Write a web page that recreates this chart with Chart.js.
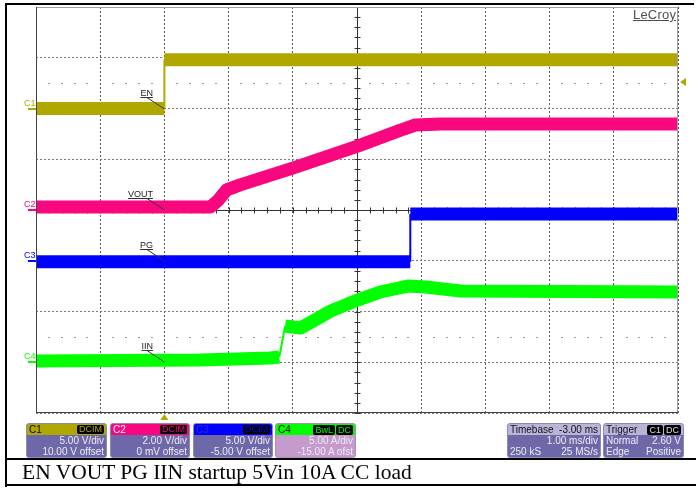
<!DOCTYPE html>
<html>
<head>
<meta charset="utf-8">
<script src="https://cdn.jsdelivr.net/npm/chart.js@4.4.1/dist/chart.umd.min.js"></script>
<style>
  body { margin: 0; background: #fff; }
  #wrap { position: relative; width: 696px; height: 489px; overflow: hidden; font-family: "Liberation Sans", Arial, sans-serif; }
  #scope { position: absolute; left: 0; top: 0; }
  .bar { position: absolute; background: #000; }
  .logo { position: absolute; left: 633px; top: 7px; font-size: 13px; color: #4f4f4f; text-decoration: underline; letter-spacing: 0.2px; }
  .box { position: absolute; top: 423px; height: 33px; border: 1px solid #8d89bd; border-radius: 3px; overflow: hidden; background: #6e68a8; color: #ecebf6; font-size: 10px; }
  .box .hd { height: 11px; line-height: 11px; padding: 0 2px; display: flex; justify-content: space-between; align-items: center; }
  .box .row { height: 11px; line-height: 11px; padding: 0 2px; text-align: right; white-space: nowrap; }
  .box .row.split { display: flex; justify-content: space-between; }
  .tag { background: #000; border-radius: 2px; padding: 0 2px; font-size: 9px; line-height: 9px; margin-left: 1px; }
  .caption { position: absolute; left: 22px; top: 462px; font-family: "Liberation Serif", "Times New Roman", serif; font-size: 21.5px; line-height: 21px; color: #000; white-space: nowrap; }
</style>
</head>
<body>
<div id="wrap">
  <canvas id="scope" width="696" height="489"></canvas>

  <div class="bar" style="left:5px;top:3px;width:689px;height:2px"></div>
  <div class="bar" style="left:5px;top:3px;width:2px;height:484px"></div>
  <div class="bar" style="left:5px;top:458px;width:691px;height:2px"></div>
  <div class="bar" style="left:5px;top:484px;width:691px;height:2px"></div>

  <div class="logo">LeCroy</div>

  <div class="box" style="left:26px;width:79px">
    <div class="hd" style="background:#b0a800;color:#000"><span>C1</span><span class="tag" style="color:#b0a800">DCIM</span></div>
    <div class="row">5.00 V/div</div>
    <div class="row">10.00 V offset</div>
  </div>
  <div class="box" style="left:110px;width:78px">
    <div class="hd" style="background:#f8077f;color:#fff"><span>C2</span><span class="tag" style="color:#f8077f">DCIM</span></div>
    <div class="row">2.00 V/div</div>
    <div class="row">0 mV offset</div>
  </div>
  <div class="box" style="left:193px;width:78px">
    <div class="hd" style="background:#0000ff;color:#2a2ad0"><span>C3</span><span class="tag" style="color:#0000ff">DCIM</span></div>
    <div class="row">5.00 V/div</div>
    <div class="row">-5.00 V offset</div>
  </div>
  <div class="box" style="left:275px;width:79px;background:#c49bcc;border-color:#b08ab8">
    <div class="hd" style="background:#00ff00;color:#000"><span>C4</span><span><span class="tag" style="color:#00ff00">BwL</span><span class="tag" style="color:#00ff00">DC</span></span></div>
    <div class="row">5.00 A/div</div>
    <div class="row">-15.00 A ofst</div>
  </div>
  <div class="box" style="left:507px;width:92px">
    <div class="hd" style="background:#b9b5d8;color:#111"><span>Timebase</span><span>-3.00 ms</span></div>
    <div class="row">1.00 ms/div</div>
    <div class="row split"><span>250 kS</span><span>25 MS/s</span></div>
  </div>
  <div class="box" style="left:603px;width:79px">
    <div class="hd" style="background:#b9b5d8;color:#111"><span>Trigger</span><span><span class="tag" style="color:#ddd">C1</span><span class="tag" style="color:#ddd">DC</span></span></div>
    <div class="row split"><span>Normal</span><span>2.60 V</span></div>
    <div class="row split"><span>Edge</span><span>Positive</span></div>
  </div>

  <div class="caption">EN VOUT PG IIN startup 5Vin 10A CC load</div>
</div>

<script>
// channel settings (volts or amps per division, offset)
const chNames = ["EN", "VOUT", "PG", "IIN"];
const chScale = [5, 2, 5, 5];
const chOffset = [10, 0, -5, -15];
const chColors = ["#b0a800", "#f8077f", "#0000ff", "#00ff00"];

// time in ms (trigger at 0), value in V or A
const enTime = [-2, 0, 0, 8];
const enVolts = [0, 0, 4.8, 4.8];

const voutTime = [-2, 0.72, 0.84, 0.97, 1.18, 2.01, 3.01, 3.68, 3.91, 4.30, 8];
const voutVolts = [0.12, 0.12, 0.39, 0.79, 0.99, 1.66, 2.52, 3.15, 3.35, 3.39, 3.39];

const pgTime = [-2, 3.83, 3.83, 8];
const pgVolts = [-0.1, -0.1, 4.6, 4.6];

const iinTime = [-2, 0.56, 1.65, 1.79, 1.88, 2.12, 2.40, 2.59, 3.01, 3.36, 3.79, 4.07, 4.61, 8];
const iinAmps = [0.12, 0.22, 0.42, 0.52, 3.57, 3.37, 4.36, 5.05, 6.13, 6.92, 7.51, 7.41, 7.02, 6.92];

const trigLevel = 2.6;   // volts on C1
const dotRows = [2.5, -2.5];

const traces = [
  [enTime, enVolts],
  [voutTime, voutVolts],
  [pgTime, pgVolts],
  [iinTime, iinAmps]
];

function toDiv(ch, times, vals) {
  return times.map((t, i) => ({ x: t, y: (vals[i] + chOffset[ch]) / chScale[ch] }));
}

const datasets = traces.map((tr, ch) => ({
  label: chNames[ch],
  data: toDiv(ch, tr[0], tr[1]),
  borderColor: chColors[ch],
  borderWidth: 13,
  borderCapStyle: "butt",
  borderJoinStyle: "round",
  pointRadius: 0,
  tension: 0,
  segment: {
    // steep edges are drawn thin like the scope does
    borderWidth: c => Math.abs(c.p1.y - c.p0.y) > 2 * Math.abs(c.p1.x - c.p0.x) ? 2 : 13
  }
}));

const scopeDecor = {
  id: "scopeDecor",
  beforeDatasetsDraw(chart) {
    const { ctx, chartArea: a, scales: { x, y } } = chart;
    ctx.save();
    // sparse dot rows
    ctx.fillStyle = "#9a9a9a";
    dotRows.forEach(d => {
      const py = Math.round(y.getPixelForValue(d));
      for (let i = -10; i <= 40; i++) {
        if (i % 5 === 0) continue;
        const px = Math.round(x.getPixelForValue(i / 5));
        ctx.fillRect(px - 1, py, 2, 1);
      }
    });
    // centre cross with minor ticks
    const cx = Math.round(x.getPixelForValue(3)) + 0.5;
    const cy = Math.round(y.getPixelForValue(0)) + 0.5;
    ctx.strokeStyle = "#333";
    ctx.lineWidth = 1;
    ctx.beginPath();
    ctx.moveTo(cx, a.top); ctx.lineTo(cx, a.bottom);
    ctx.moveTo(a.left, cy); ctx.lineTo(a.right, cy);
    for (let i = -20; i <= 20; i++) {
      const py = Math.round(y.getPixelForValue(i / 5)) + 0.5;
      ctx.moveTo(cx - 3, py); ctx.lineTo(cx + 3, py);
    }
    for (let i = -10; i <= 40; i++) {
      const px = Math.round(x.getPixelForValue(i / 5)) + 0.5;
      ctx.moveTo(px, cy - 3); ctx.lineTo(px, cy + 3);
    }
    ctx.stroke();
    ctx.restore();
  },
  afterDatasetsDraw(chart) {
    const { ctx, chartArea: a, scales: { x, y } } = chart;
    ctx.save();
    // plot frame
    ctx.lineWidth = 1;
    ctx.strokeStyle = "#a0a0a0";
    ctx.beginPath();
    ctx.moveTo(a.left, a.top + 0.5); ctx.lineTo(a.right, a.top + 0.5);
    ctx.moveTo(a.right - 0.5, a.top); ctx.lineTo(a.right - 0.5, a.bottom);
    ctx.stroke();
    ctx.strokeStyle = "#444";
    ctx.beginPath();
    ctx.moveTo(a.left + 0.5, a.top); ctx.lineTo(a.left + 0.5, a.bottom);
    ctx.moveTo(a.left, a.bottom - 0.5); ctx.lineTo(a.right, a.bottom - 0.5);
    ctx.stroke();

    const tx = x.getPixelForValue(0);
    ctx.font = "9px 'Liberation Sans', Arial, sans-serif";
    chNames.forEach((name, ch) => {
      const gy = Math.round(y.getPixelForValue(chOffset[ch] / chScale[ch]));
      // ground marker on the left
      ctx.fillStyle = chColors[ch];
      ctx.textAlign = "left";
      ctx.textBaseline = "alphabetic";
      ctx.fillText("C" + (ch + 1), 24, gy - 3);
      ctx.fillRect(28, gy - 1, 8, 2);
      // trace label with leader
      ctx.fillStyle = "#222";
      ctx.textAlign = "right";
      const right = 153;
      ctx.fillText(name, right, gy - 13);
      const w = ctx.measureText(name).width;
      ctx.strokeStyle = "#333";
      ctx.beginPath();
      ctx.moveTo(right - w, gy - 11.5); ctx.lineTo(right, gy - 11.5);
      ctx.moveTo(right - 6, gy - 11.5); ctx.lineTo(tx, gy);
      ctx.stroke();
    });

    // trigger markers
    ctx.fillStyle = chColors[0];
    const ly = y.getPixelForValue((trigLevel + chOffset[0]) / chScale[0]);
    ctx.beginPath();
    ctx.moveTo(a.right + 2, ly); ctx.lineTo(a.right + 8, ly - 4); ctx.lineTo(a.right + 8, ly + 4);
    ctx.closePath(); ctx.fill();
    ctx.beginPath();
    ctx.moveTo(tx, a.bottom + 1); ctx.lineTo(tx - 4, a.bottom + 7); ctx.lineTo(tx + 4, a.bottom + 7);
    ctx.closePath(); ctx.fill();
    ctx.restore();
  }
};

new Chart(document.getElementById("scope"), {
  type: "line",
  data: { datasets: datasets },
  options: {
    responsive: false,
    animation: false,
    devicePixelRatio: 1,
    layout: { padding: { left: 36, top: 7, right: 18, bottom: 76 } },
    plugins: { legend: { display: false }, tooltip: { enabled: false } },
    scales: {
      x: {
        type: "linear", min: -2, max: 8,
        ticks: { display: false, stepSize: 1 },
        grid: { color: "#5a5a5a", drawTicks: false },
        border: { display: false, dash: [2, 2] }
      },
      y: {
        type: "linear", min: -4, max: 4,
        ticks: { display: false, stepSize: 1 },
        grid: { color: "#7a7a7a", drawTicks: false },
        border: { display: false, dash: [2, 2] }
      }
    }
  },
  plugins: [scopeDecor]
});
</script>
</body>
</html>
